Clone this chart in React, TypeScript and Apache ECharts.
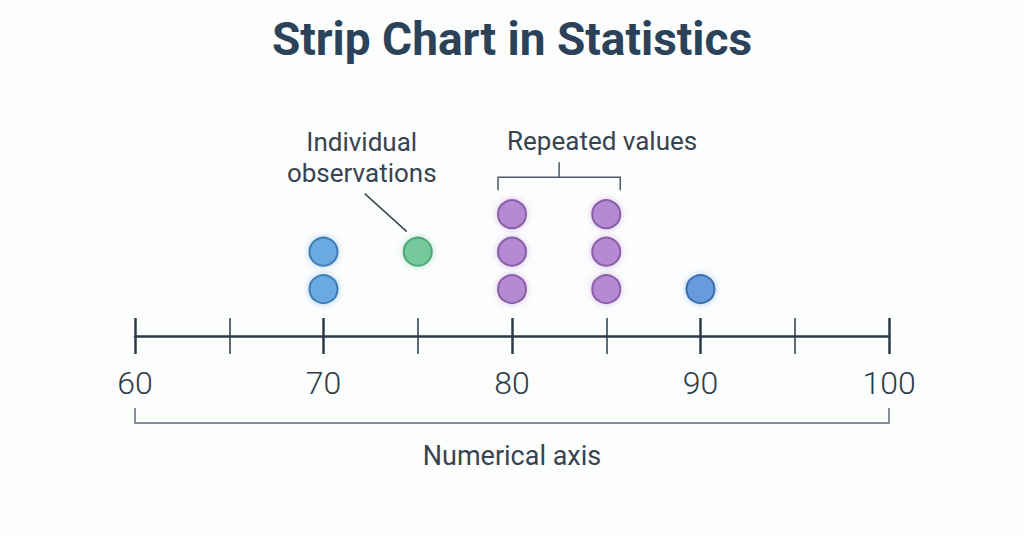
import React, { useEffect, useRef } from "react";
import * as echarts from "echarts";

// ---- texts ----
const TITLE = "Strip Chart in Statistics";
const AXIS_NAME = "Numerical axis";
const NOTE_INDIVIDUAL = "Individual\nobservations";
const NOTE_REPEATED = "Repeated values";

// ---- axis ----
const axisMin = 60;
const axisMax = 100;
const majorStep = 10;
const tickLabels = ["60", "70", "80", "90", "100"];

// ---- observations: value on the axis and stacking level (1 = nearest the axis) ----
const blueValues = [70, 70];
const blueLevels = [1, 2];
const greenValues = [75];
const greenLevels = [2];
const purpleValues = [80, 80, 80, 85, 85, 85];
const purpleLevels = [1, 2, 3, 1, 2, 3];
const outlierValues = [90];
const outlierLevels = [1];

const FONT = "Roboto, 'Noto Sans', sans-serif";
const AXIS_COLOR = "#2d3b47";
const DOT = 28;

const pairs = (xs: number[], ys: number[]) => xs.map((x, i) => [x, ys[i]]);

function dotSeries(name: string, data: number[][], fill: string, border: string, glow: string) {
  return {
    name,
    type: "scatter",
    data,
    symbol: "circle",
    symbolSize: DOT,
    itemStyle: {
      color: fill,
      borderColor: border,
      borderWidth: 2,
      shadowBlur: 6,
      shadowColor: glow,
      opacity: 1,
    },
    emphasis: { disabled: true },
    z: 5,
  };
}

export default function App() {
  const ref = useRef<HTMLDivElement>(null);

  useEffect(() => {
    document.body.style.margin = "0";
    if (!ref.current) return;
    const chart = echarts.init(ref.current, undefined, { renderer: "svg" });

    const tickCommon = {
      type: "value",
      min: axisMin,
      max: axisMax,
      interval: majorStep,
      position: "bottom",
      splitLine: { show: false },
      minorSplitLine: { show: false },
    };

    chart.setOption({
      animation: false,
      backgroundColor: "#fcfdfd",
      grid: { left: 135, right: 135, top: 195.4, bottom: 200 },
      xAxis: [
        {
          ...tickCommon,
          axisLine: { show: true, onZero: false, lineStyle: { color: AXIS_COLOR, width: 2.5 } },
          axisTick: { show: true, inside: false, length: 18, lineStyle: { color: AXIS_COLOR, width: 2.5 } },
          minorTick: { show: true, splitNumber: 2, length: 18, lineStyle: { color: AXIS_COLOR, width: 1.5 } },
          axisLabel: {
            show: true,
            margin: 31,
            fontSize: 32,
            fontFamily: FONT,
            fontWeight: 300,
            color: "#2f3c47",
            lineHeight: 32,
            showMinLabel: true,
            showMaxLabel: true,
            formatter: (v: number) => tickLabels[Math.round((v - axisMin) / majorStep)] ?? "",
          },
        },
        {
          ...tickCommon,
          axisLine: { show: false, onZero: false },
          axisTick: { show: true, inside: true, length: 18, lineStyle: { color: AXIS_COLOR, width: 2.5 } },
          minorTick: { show: true, splitNumber: 2, length: 18, lineStyle: { color: AXIS_COLOR, width: 1.5 } },
          axisLabel: { show: false },
        },
      ],
      yAxis: { type: "value", min: -0.25, max: 3.5, show: false },
      series: [
        dotSeries("Values at 70", pairs(blueValues, blueLevels), "#6aa9e2", "#3f7db5", "rgba(106,169,226,0.55)"),
        dotSeries("Individual observation", pairs(greenValues, greenLevels), "#74c99c", "#4ea877", "rgba(116,201,156,0.55)"),
        dotSeries("Repeated values", pairs(purpleValues, purpleLevels), "#b48ad2", "#8a5ea8", "rgba(180,138,210,0.55)"),
        dotSeries("Value at 90", pairs(outlierValues, outlierLevels), "#669cdd", "#3d6fa6", "rgba(102,156,221,0.55)"),
      ],
    });

    const px = (x: number, y: number) => chart.convertToPixel({ gridIndex: 0 }, [x, y]) as number[];
    const xMin = px(axisMin, 0)[0];
    const axisY = px(axisMin, -0.25)[1];
    const xMax = px(axisMax, 0)[0];
    const green = px(greenValues[0], greenLevels[0]);
    const repLeft = px(purpleValues[0], 3);
    const repRight = px(purpleValues[purpleValues.length - 1], 3);
    const bL = repLeft[0] - DOT / 2;
    const bR = repRight[0] + DOT / 2;
    const bC = (bL + bR) / 2;
    const topY = repLeft[1];

    chart.setOption({
      graphic: [
        {
          type: "text",
          x: 512,
          y: 39,
          style: {
            text: TITLE,
            fontSize: 46,
            fontWeight: 700,
            fontFamily: FONT,
            fill: "#2b4259",
            align: "center",
            verticalAlign: "middle",
          },
        },
        {
          type: "text",
          x: green[0] - 56,
          y: 157,
          style: {
            text: NOTE_INDIVIDUAL,
            fontSize: 26,
            fontFamily: FONT,
            fill: "#37444f",
            align: "center",
            verticalAlign: "middle",
            lineHeight: 31,
          },
        },
        {
          type: "line",
          shape: { x1: green[0] - 53, y1: green[1] - 58, x2: green[0] - 11, y2: green[1] - 20 },
          style: { stroke: "#3a4650", lineWidth: 1.5 },
        },
        {
          type: "text",
          x: bC + 43,
          y: 141,
          style: {
            text: NOTE_REPEATED,
            fontSize: 26,
            fontFamily: FONT,
            fill: "#37444f",
            align: "center",
            verticalAlign: "middle",
          },
        },
        {
          type: "polyline",
          shape: { points: [[bL, topY - 24], [bL, topY - 37], [bR, topY - 37], [bR, topY - 24]] },
          style: { stroke: "#4e5a65", lineWidth: 1.5, fill: null },
        },
        {
          type: "line",
          shape: { x1: bC, y1: topY - 37, x2: bC, y2: topY - 52 },
          style: { stroke: "#4e5a65", lineWidth: 1.5 },
        },
        {
          type: "polyline",
          shape: { points: [[xMin, axisY + 72], [xMin, axisY + 87], [xMax, axisY + 87], [xMax, axisY + 72]] },
          style: { stroke: "#5d6873", lineWidth: 1.5, fill: null },
        },
        {
          type: "text",
          x: (xMin + xMax) / 2,
          y: axisY + 120,
          style: {
            text: AXIS_NAME,
            fontSize: 27,
            fontFamily: FONT,
            fill: "#37444f",
            align: "center",
            verticalAlign: "middle",
          },
        },
      ],
    });

    return () => chart.dispose();
  }, []);

  return <div ref={ref} style={{ width: 1024, height: 536 }} />;
}
